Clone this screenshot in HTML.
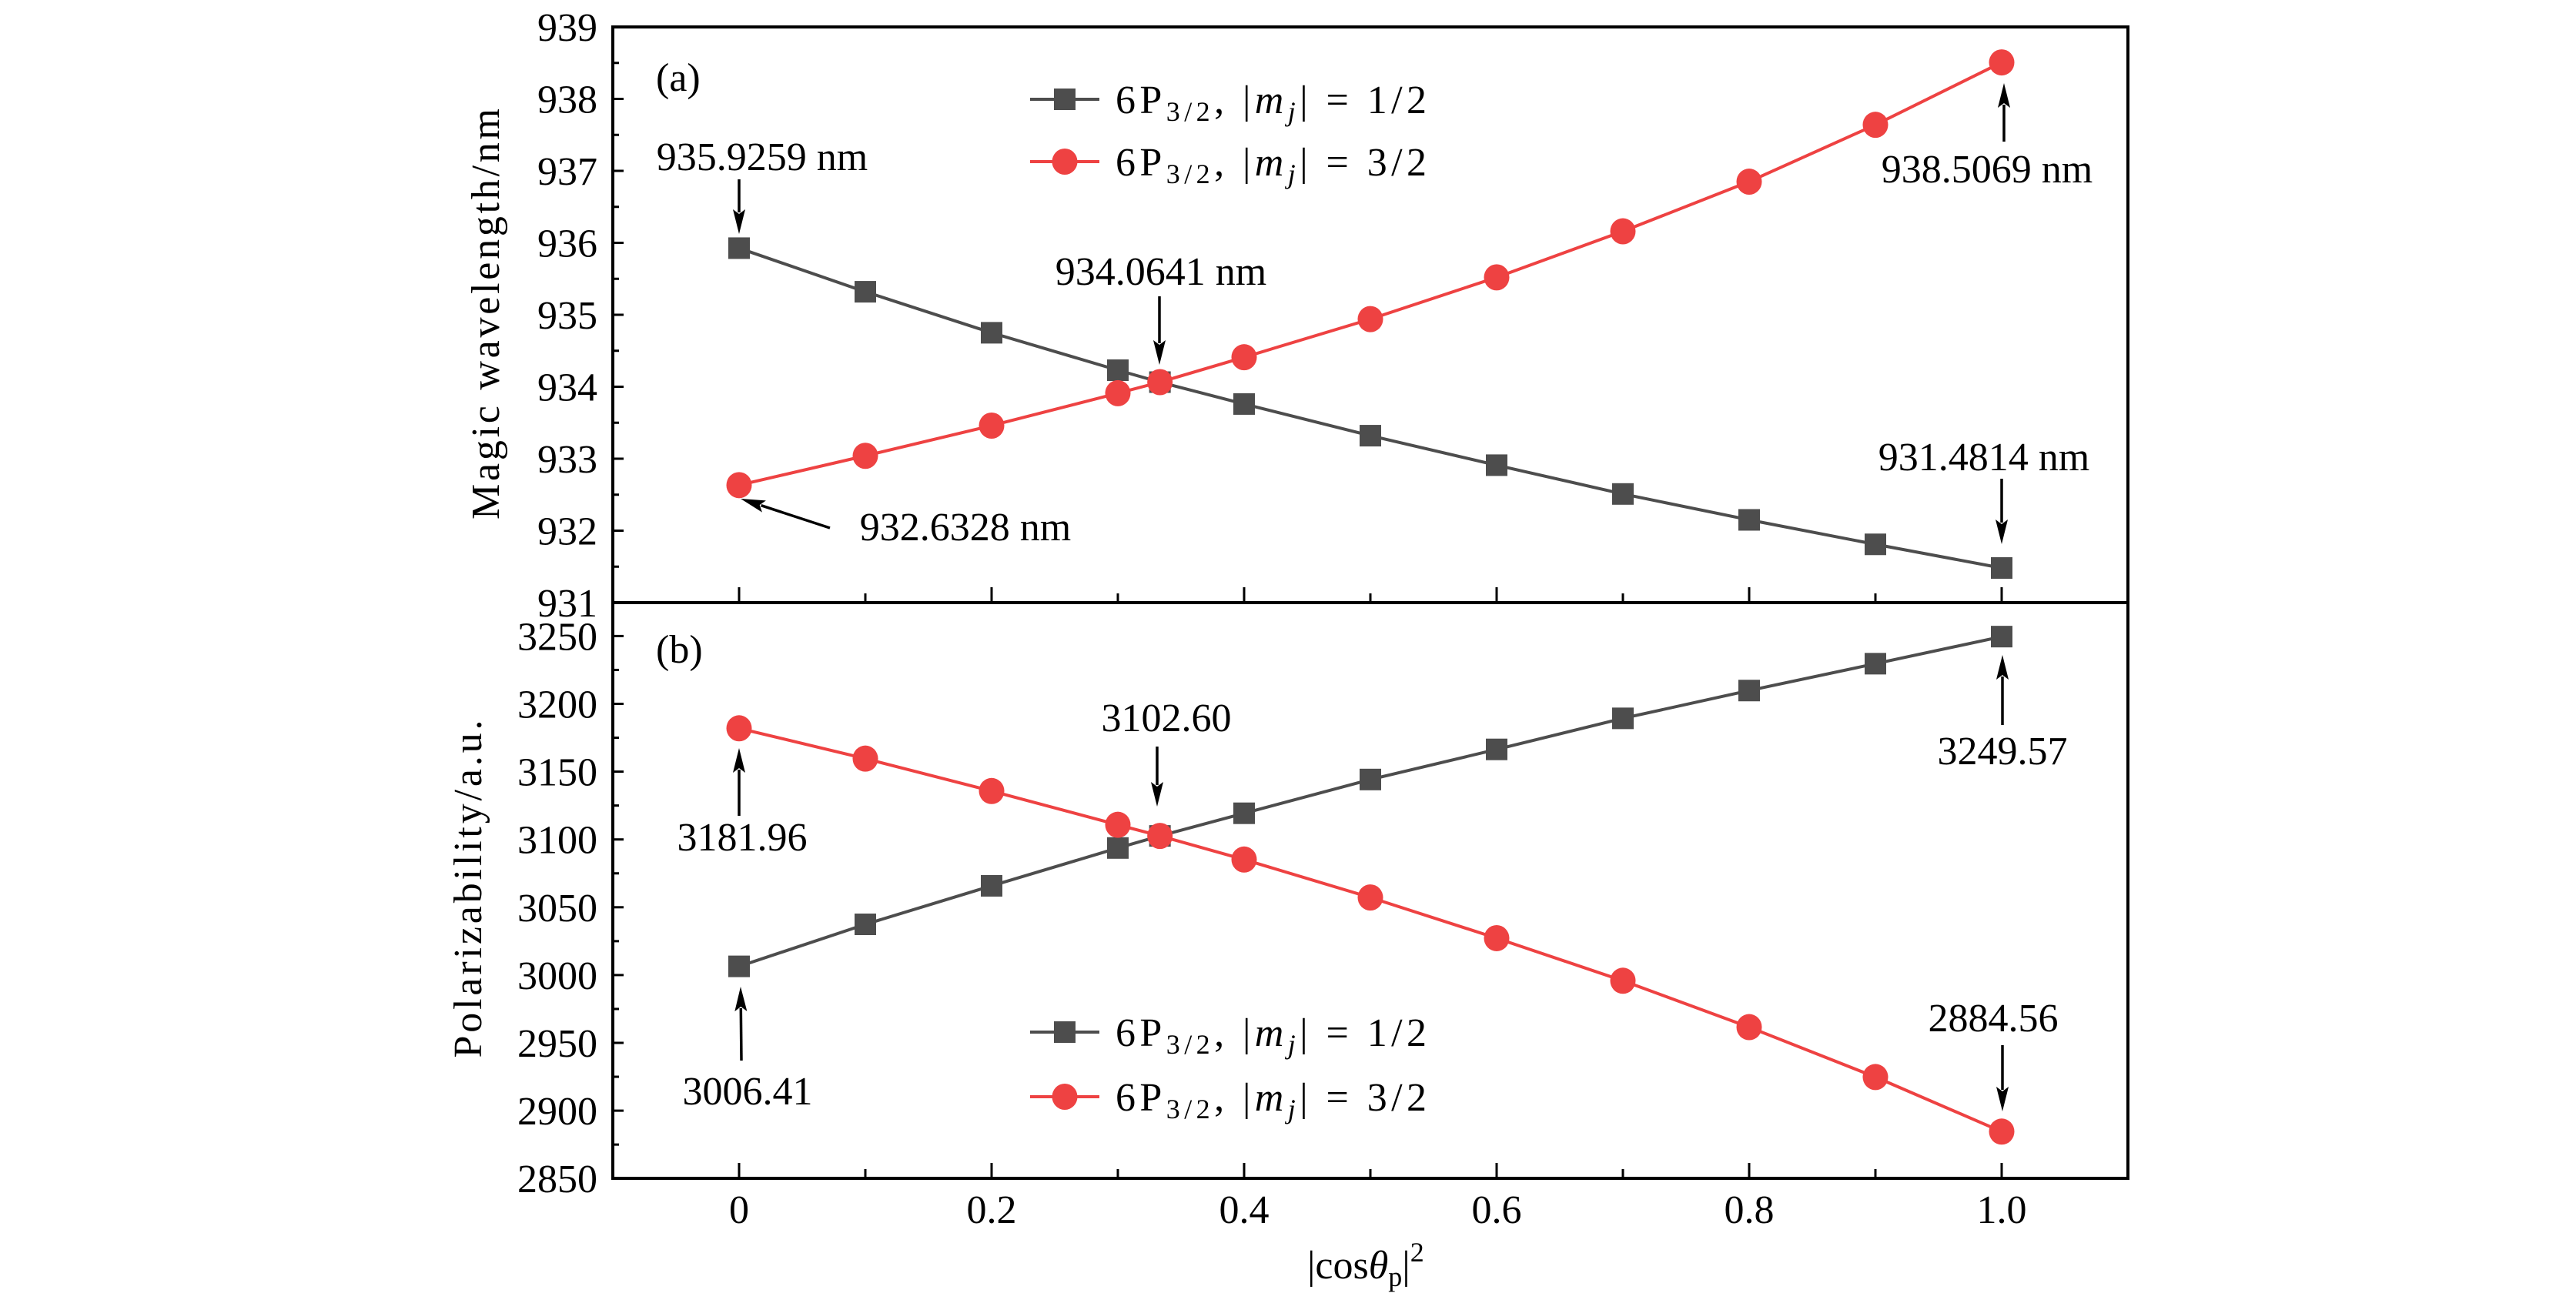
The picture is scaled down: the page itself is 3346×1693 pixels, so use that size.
<!DOCTYPE html>
<html><head><meta charset="utf-8"><style>
html,body{margin:0;padding:0;background:#fff;}
svg{display:block;font-family:"Liberation Serif",serif;}
</style></head><body>
<svg id="chart" width="3346" height="1693" viewBox="0 0 3346 1693" xmlns="http://www.w3.org/2000/svg"></svg>
<script>
const xValues = [0,0.1,0.2,0.3,1/3,0.4,0.5,0.6,0.7,0.8,0.9,1.0];
const magicMj12 = [935.9259,935.32,934.75,934.23,934.0641,933.76,933.32,932.91,932.51,932.15,931.81,931.4814];
const magicMj32 = [932.6328,933.04,933.46,933.91,934.0641,934.41,934.94,935.52,936.16,936.85,937.64,938.5069];
const polMj12 = [3006.41,3037.4,3065.8,3093.7,3102.60,3119.3,3144.2,3166.4,3189.3,3209.8,3229.6,3249.57];
const polMj32 = [3181.96,3159.6,3135.7,3110.8,3102.60,3085.2,3057.2,3027.2,2995.8,2961.6,2924.8,2884.56];
const xTicks = [0,0.2,0.4,0.6,0.8,1.0];
const xTickLabels = ["0","0.2","0.4","0.6","0.8","1.0"];
const magicTicks = [931,932,933,934,935,936,937,938,939];
const polTicks = [2850,2900,2950,3000,3050,3100,3150,3200,3250];

const NS="http://www.w3.org/2000/svg";
const svg=document.getElementById('chart');
function el(tag,attrs,parent){const e=document.createElementNS(NS,tag);for(const k in attrs)e.setAttribute(k,attrs[k]);(parent||svg).appendChild(e);return e;}
const L=796,R=2764;
const X=v=>L+(v+0.1)/1.2*(R-L);
const Ya=v=>35+(939-v)*93.5;
const Yb=v=>826.4+(3250-v)/50*88.1;
const GRAY="#4d4d4d",RED="#ee4242";

function series(xs,ys,Y,color,marker,name){
  const g=el('g',{});
  
  
  el('polyline',{points:xs.map((x,i)=>X(x)+','+Y(ys[i])).join(' '),fill:'none',stroke:color,'stroke-width':4},g);
  xs.forEach((x,i)=>{let m;
    if(marker==='sq') m=el('rect',{x:X(x)-14,y:Y(ys[i])-14,width:28,height:28,fill:color},g);
    else m=el('ellipse',{cx:X(x),cy:Y(ys[i]),rx:16.5,ry:17,fill:color},g);
    
    
  });
}
function text(x,y,s,anchor,name,size){const t=el('text',{x:x,y:y,'font-size':size||52,'text-anchor':anchor||'start',fill:'#000'});t.textContent=s;
  
  return t;}
function arrow(x1,y1,x2,y2,name){const g=el('g',{});
  
  
  const dx=x2-x1,dy=y2-y1,len=Math.hypot(dx,dy),ux=dx/len,uy=dy/len,hl=32,hw=8;
  const bx=x2-ux*hl,by=y2-uy*hl;
  el('line',{x1:x1,y1:y1,x2:bx+ux*4,y2:by+uy*4,stroke:'#000','stroke-width':3.5},g);
  el('polygon',{points:`${x2},${y2} ${bx-uy*hw},${by+ux*hw} ${bx+ux*6},${by+uy*6} ${bx+uy*hw},${by-ux*hw}`,fill:'#000'},g);}

function frame(top,bot,ticks,Y,minorStep,name){
  const r=el('rect',{x:L,y:top,width:R-L,height:bot-top,fill:'none',stroke:'#000','stroke-width':4});
  
  
  ticks.forEach((v,i)=>{const y=Y(v);
    if(y>=top-1&&y<=bot+1) el('line',{x1:L,y1:y,x2:L+14,y2:y,stroke:'#000','stroke-width':3});
    const ym=Y(v+minorStep); if(i<ticks.length-1 && ym>top) el('line',{x1:L,y1:ym,x2:L+8,y2:ym,stroke:'#000','stroke-width':3});
  });
  for(let k=0;k<=10;k++){const x=X(k/10);el('line',{x1:x,y1:bot,x2:x,y2:bot-(k%2===0?20:12),stroke:'#000','stroke-width':3});}
}
frame(35,783,magicTicks,Ya,0.5,'panel-a-frame');
frame(783,1531,polTicks,Yb,25,'panel-b-frame');
el('rect',{x:L,y:35,width:R-L,height:1496,fill:'none',stroke:'#000','stroke-width':4});

magicTicks.forEach(v=>text(776,Ya(v)+18,String(v),'end','y-tick-label-a'));
polTicks.forEach(v=>text(776,Yb(v)+18,String(v),'end','y-tick-label-b'));
xTicks.forEach((v,i)=>text(X(v),1589,xTickLabels[i],'middle','x-tick-label'));

let t=text(0,0,'Magic wavelength/nm','middle','y-axis-title-a');t.setAttribute('transform','translate(648,408) rotate(-90)');
t.setAttribute('textLength','534');t.setAttribute('lengthAdjust','spacing');
t=text(0,0,'Polarizability/a.u.','middle','y-axis-title-b');t.setAttribute('transform','translate(625,1155) rotate(-90)');
t.setAttribute('textLength','439');t.setAttribute('lengthAdjust','spacing');
t=el('text',{x:1698,y:1661,'font-size':52,fill:'#000'});


t.innerHTML='|cos<tspan font-style="italic">θ</tspan><tspan font-size="36" dy="10">p</tspan><tspan dy="-10">|</tspan><tspan font-size="36" dy="-22">2</tspan>';

text(852,118,'(a)','start','panel-a-label');
text(852,861,'(b)','start','panel-b-label');

series(xValues,magicMj12,Ya,GRAY,'sq','series-a-mj12');
series(xValues,magicMj32,Ya,RED,'ci','series-a-mj32');
series(xValues,polMj12,Yb,GRAY,'sq','series-b-mj12');
series(xValues,polMj32,Yb,RED,'ci','series-b-mj32');

function legend(y1,y2,name){
  [[y1,GRAY,'sq','1/2'],[y2,RED,'ci','3/2']].forEach(([y,c,m,f])=>{
    const g=el('g',{});
    
    
    el('line',{x1:1338,y1:y,x2:1428,y2:y,stroke:c,'stroke-width':4},g);
    if(m==='sq') el('rect',{x:1369,y:y-14,width:28,height:28,fill:c},g); else el('ellipse',{cx:1383,cy:y,rx:16.5,ry:17,fill:c},g);
    const t=el('text',{x:1449,y:y+18,'font-size':52,fill:'#000',textLength:404,lengthAdjust:'spacing'},g);
    t.innerHTML=`6P<tspan font-size="36" dy="10">3/2</tspan><tspan dy="-10">, |</tspan><tspan font-style="italic">m</tspan><tspan font-size="36" font-style="italic" dy="10">j</tspan><tspan dy="-10">| = ${f}</tspan>`;
  });
}
legend(129,210,'legend-a');
legend(1341,1425,'legend-b');

text(990,221,'935.9259 nm','middle','annotation-935-9259');
arrow(960,233,960,304,'arrow-935-9259');
text(1508,370,'934.0641 nm','middle','annotation-934-0641');
arrow(1506,385,1506,474,'arrow-934-0641');
text(1254,702,'932.6328 nm','middle','annotation-932-6328');
arrow(1078,686,962,648,'arrow-932-6328');
text(2581,237,'938.5069 nm','middle','annotation-938-5069');
arrow(2603,184,2603,108,'arrow-938-5069');
text(2577,611,'931.4814 nm','middle','annotation-931-4814');
arrow(2600,622,2600,707,'arrow-931-4814');
text(964,1105,'3181.96','middle','annotation-3181-96');
arrow(960,1060,960,972,'arrow-3181-96');
text(1515,950,'3102.60','middle','annotation-3102-60');
arrow(1503,970,1503,1048,'arrow-3102-60');
text(971,1435,'3006.41','middle','annotation-3006-41');
arrow(963,1378,962,1282,'arrow-3006-41');
text(2601,993,'3249.57','middle','annotation-3249-57');
arrow(2601,942,2601,851,'arrow-3249-57');
text(2589,1340,'2884.56','middle','annotation-2884-56');
arrow(2601,1358,2601,1444,'arrow-2884-56');
</script>
</body></html>
